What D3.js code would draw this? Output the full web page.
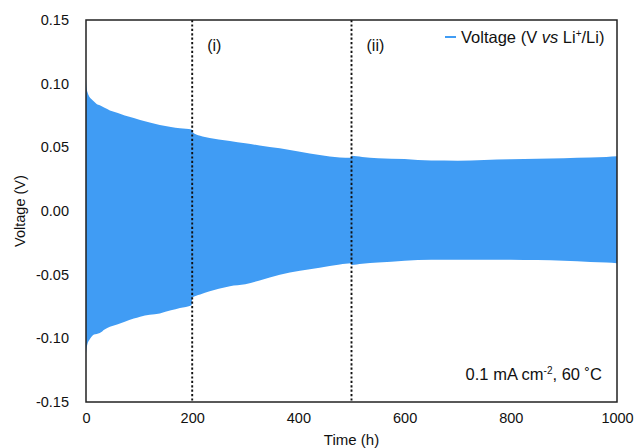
<!DOCTYPE html>
<html>
<head>
<meta charset="utf-8">
<script src="https://cdn.jsdelivr.net/npm/d3@7"></script>
<style>
  html, body { margin: 0; padding: 0; background: #fff; }
  svg { display: block; font-family: "Liberation Sans", Arial, Helvetica, sans-serif; }
</style>
</head>
<body>
<svg id="chart" width="634" height="448"></svg>
<script>
// Cycling time (h) at which the voltage envelope was sampled
const timeH = [0, 1, 3, 6, 10, 15, 20, 26, 35, 45, 60, 73, 90, 102, 120, 139, 160, 177, 199,
  200, 215, 233, 250, 271, 300, 327, 365, 403, 440, 478, 499,
  500, 520, 550, 600, 650, 700, 750, 800, 850, 900, 950, 980, 1000];
// Upper (stripping) voltage envelope, V
const upperV = [0.104, 0.097, 0.093, 0.090, 0.088, 0.086, 0.084, 0.083, 0.081, 0.079, 0.077, 0.075, 0.073, 0.0715, 0.0695, 0.0675, 0.066, 0.065, 0.064,
  0.0623, 0.059, 0.0573, 0.0562, 0.055, 0.0532, 0.0515, 0.0492, 0.0466, 0.044, 0.0421, 0.0419,
  0.0434, 0.0425, 0.0414, 0.0408, 0.0396, 0.0395, 0.0400, 0.0406, 0.0410, 0.0415, 0.0420, 0.0425, 0.043];
// Lower (plating) voltage envelope, V
const lowerV = [-0.112, -0.108, -0.104, -0.1015, -0.099, -0.097, -0.0965, -0.0958, -0.093, -0.091, -0.089, -0.087, -0.0845, -0.083, -0.0815, -0.0804, -0.078, -0.0762, -0.074,
  -0.068, -0.0655, -0.063, -0.061, -0.059, -0.0575, -0.0545, -0.050, -0.0469, -0.0445, -0.042, -0.041,
  -0.0424, -0.0415, -0.0405, -0.039, -0.0382, -0.0382, -0.0382, -0.0382, -0.0385, -0.039, -0.040, -0.0405, -0.041];

const xTicks = [0, 200, 400, 600, 800, 1000];
const yTicks = [0.15, 0.10, 0.05, 0.00, -0.05, -0.10, -0.15];
const stageTimes = [200, 500];
const stageLabels = ["(i)", "(ii)"];

const svg = d3.select("#chart");
const m = { left: 86, right: 617, top: 20, bottom: 402 };

const x = d3.scaleLinear().domain([0, 1000]).range([m.left, m.right]);
const y = d3.scaleLinear().domain([-0.15, 0.15]).range([m.bottom, m.top]);

const blue = "#409cf4";
const rows = timeH.map((t, i) => ({ t, hi: upperV[i], lo: lowerV[i] }));

// Voltage band traced by the galvanostatic cycling
const area = d3.area()
  .x(d => x(d.t))
  .y0(d => y(d.lo))
  .y1(d => y(d.hi))
  .curve(d3.curveMonotoneX);
svg.append("path").datum(rows).attr("d", area).attr("fill", blue);

// Stage boundaries
svg.selectAll(".stage").data(stageTimes).join("line")
  .attr("x1", d => x(d)).attr("x2", d => x(d))
  .attr("y1", m.top).attr("y2", m.bottom)
  .attr("stroke", "#111").attr("stroke-width", 1.9)
  .attr("stroke-dasharray", "2.2,2.2");
svg.selectAll(".stageLabel").data(stageTimes).join("text")
  .attr("x", d => x(d) + 15).attr("y", 51)
  .attr("font-size", 16).attr("fill", "#111")
  .text((d, i) => stageLabels[i]);

// Axes (labels only, no tick marks); plain hyphen for negatives
const fmtY = v => d3.format(".2f")(v).replace("\u2212", "-");
const xAxis = svg.append("g").attr("transform", `translate(0,${m.bottom})`)
  .call(d3.axisBottom(x).tickValues(xTicks).tickSize(0).tickPadding(11).tickFormat(d3.format("d")));
const yAxis = svg.append("g").attr("transform", `translate(${m.left},0)`)
  .call(d3.axisLeft(y).tickValues(yTicks).tickSize(0).tickPadding(17).tickFormat(fmtY));
[xAxis, yAxis].forEach(g => {
  g.select(".domain").remove();
  g.selectAll("text").attr("font-size", 14.5).attr("fill", "#111")
    .attr("font-family", "'Liberation Sans', Arial, sans-serif");
});

// Plot frame
svg.append("rect")
  .attr("x", m.left).attr("y", m.top)
  .attr("width", m.right - m.left).attr("height", m.bottom - m.top)
  .attr("fill", "none").attr("stroke", "#222").attr("stroke-width", 1.5);

// Axis titles
svg.append("text")
  .attr("x", (m.left + m.right) / 2).attr("y", 445)
  .attr("text-anchor", "middle").attr("font-size", 15).attr("fill", "#111")
  .text("Time (h)");
svg.append("text")
  .attr("transform", `translate(25,${(m.top + m.bottom) / 2}) rotate(-90)`)
  .attr("text-anchor", "middle").attr("font-size", 14.5).attr("fill", "#111")
  .text("Voltage (V)");

// Legend
svg.append("line").attr("x1", 445).attr("x2", 456).attr("y1", 37).attr("y2", 37)
  .attr("stroke", blue).attr("stroke-width", 2);
const leg = svg.append("text").attr("x", 461).attr("y", 43)
  .attr("font-size", 16.5).attr("fill", "#111");
leg.append("tspan").text("Voltage (V ");
leg.append("tspan").attr("font-style", "italic").text("vs");
leg.append("tspan").text(" Li");
leg.append("tspan").attr("font-size", 10).attr("dy", -6).text("+");
leg.append("tspan").attr("dy", 6).text("/Li)");

// Test conditions
const cond = svg.append("text").attr("x", 602).attr("y", 380)
  .attr("text-anchor", "end").attr("font-size", 16.5).attr("fill", "#111");
cond.append("tspan").text("0.1 mA cm");
cond.append("tspan").attr("font-size", 10).attr("dy", -6).text("-2");
cond.append("tspan").attr("dy", 6).text(", 60 ˚C");
</script>
</body>
</html>
